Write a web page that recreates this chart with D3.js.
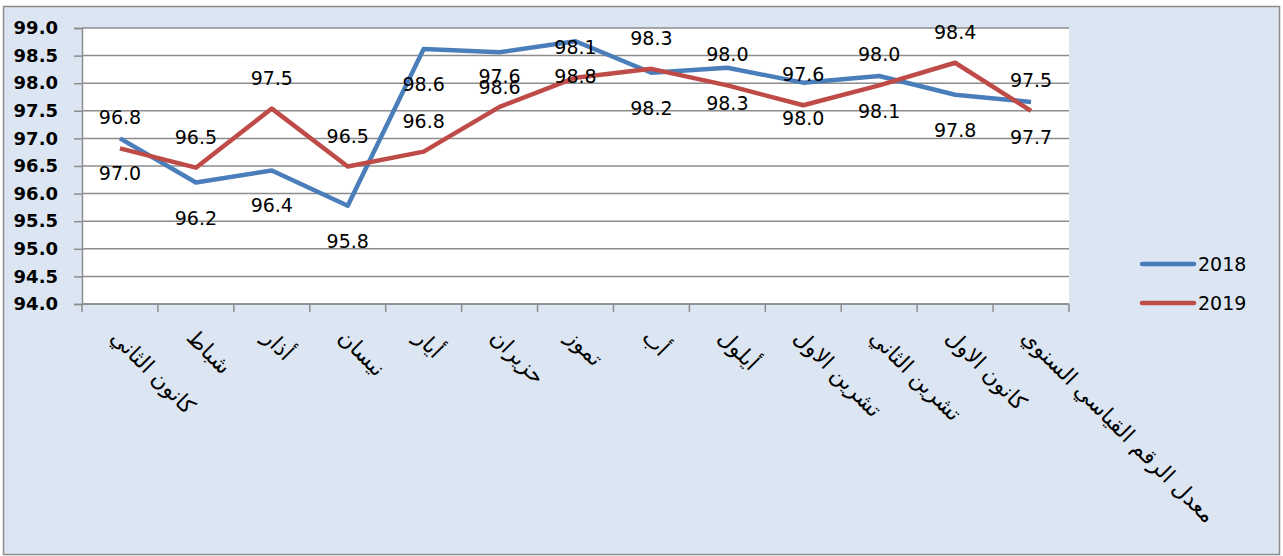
<!DOCTYPE html>
<html>
<head>
<meta charset="utf-8">
<script src="https://cdn.jsdelivr.net/npm/d3@7/dist/d3.min.js"></script>
<style>
  body { margin: 0; background: #fff; }
  svg { display: block; }
</style>
</head>
<body>
<svg id="chart" width="1283" height="556"></svg>
<script>
// months + annual average
var categories = ["كانون الثاني", "شباط", "أذار", "نيسان", "أيار", "حزيران", "تموز",
    "أب", "أيلول", "تشرين الاول", "تشرين الثاني", "كانون الاول", "معدل الرقم القياسي السنوي"];
var values2018 = [97.0, 96.2, 96.42, 95.78, 98.62, 98.56, 98.76, 98.19, 98.28, 98.01, 98.13, 97.79, 97.66];
var values2019 = [96.82, 96.47, 97.54, 96.49, 96.76, 97.57, 98.1, 98.26, 97.96, 97.6, 97.96, 98.37, 97.5];
var yTicks = [94.0, 94.5, 95.0, 95.5, 96.0, 96.5, 97.0, 97.5, 98.0, 98.5, 99.0];

var series = [
    {name: "2018", values: values2018, color: "#4a7ebb", labelDy: 35},
    {name: "2019", values: values2019, color: "#be4b48", labelDy: -31}
];

var svg = d3.select("#chart");
var plotLeft = 82, plotRight = 1069, plotTop = 28, plotBottom = 304;

// outer chart area
svg.append("rect")
    .attr("x", 3.5).attr("y", 6.5).attr("width", 1276).attr("height", 548)
    .attr("fill", "#dce6f2").attr("stroke", "#8c8c8c").attr("stroke-width", 1.5);

svg.append("rect")
    .attr("x", plotLeft).attr("y", plotTop).attr("width", plotRight - plotLeft).attr("height", plotBottom - plotTop)
    .attr("fill", "#fff");

var x = d3.scaleBand().domain(categories).range([plotLeft, plotRight]);
var y = d3.scaleLinear().domain([94, 99]).range([plotBottom, plotTop]);

// gridlines
svg.append("g").selectAll("line")
    .data(yTicks)
    .enter()
    .append("line")
        .attr("x1", plotLeft).attr("x2", plotRight)
        .attr("y1", function (d) { return y(d); })
        .attr("y2", function (d) { return y(d); })
        .attr("stroke", "#8c8c8c").attr("stroke-width", 1.5);

// y axis
var yAxis = svg.append("g")
    .attr("transform", "translate(" + plotLeft + ",0)")
    .call(d3.axisLeft(y).tickValues(yTicks).tickFormat(d3.format(".1f")).tickSize(8).tickPadding(16));
yAxis.select(".domain").attr("stroke", "#8c8c8c").attr("stroke-width", 1.5);
yAxis.selectAll(".tick line").attr("stroke", "#8c8c8c").attr("stroke-width", 1.5);
yAxis.selectAll("text")
    .attr("fill", "#000")
    .style("font-family", "DejaVu Sans")
    .style("font-size", "18px")
    .style("font-weight", "bold");

// x axis: ticks between categories
var boundaries = categories.map(function (d) { return x(d); }).concat([plotRight]);
svg.append("line")
    .attr("x1", plotLeft).attr("x2", plotRight).attr("y1", plotBottom).attr("y2", plotBottom)
    .attr("stroke", "#8c8c8c").attr("stroke-width", 1.5);
svg.append("g").selectAll("line")
    .data(boundaries)
    .enter()
    .append("line")
        .attr("x1", function (d) { return d; })
        .attr("x2", function (d) { return d; })
        .attr("y1", plotBottom).attr("y2", plotBottom + 8)
        .attr("stroke", "#8c8c8c").attr("stroke-width", 1.5);

svg.append("g").selectAll("text")
    .data(categories)
    .enter()
    .append("text")
        .attr("transform", function (d) {
            return "translate(" + (x(d) + x.bandwidth() / 2 + 1) + ",327) rotate(45)";
        })
        .attr("text-anchor", "start")
        .attr("dy", "0.75em")
        .style("font-family", "DejaVu Sans")
        .style("font-size", "22px")
        .attr("fill", "#000")
        .text(function (d) { return d; });

// lines
var line = d3.line()
    .x(function (d, i) { return x(categories[i]) + x.bandwidth() / 2; })
    .y(function (d) { return y(d); });

series.forEach(function (s) {
    svg.append("path")
        .datum(s.values)
        .attr("d", line)
        .attr("fill", "none")
        .attr("stroke", s.color)
        .attr("stroke-width", 4.5)
        .attr("stroke-linejoin", "round");
});

// data labels
series.forEach(function (s) {
    svg.append("g").selectAll("text")
        .data(s.values)
        .enter()
        .append("text")
            .attr("x", function (d, i) { return x(categories[i]) + x.bandwidth() / 2; })
            .attr("y", function (d) { return y(d) + s.labelDy; })
            .attr("text-anchor", "middle")
            .attr("dominant-baseline", "central")
            .style("font-family", "DejaVu Sans")
            .style("font-size", "19px")
            .attr("fill", "#000")
            .text(function (d) { return d.toFixed(1); });
});

// legend
var legend = svg.append("g").selectAll("g")
    .data(series)
    .enter()
    .append("g")
        .attr("transform", function (d, i) { return "translate(1142," + (264 + i * 39) + ")"; });
legend.append("line")
    .attr("x1", 0).attr("x2", 52)
    .attr("stroke", function (d) { return d.color; })
    .attr("stroke-width", 4.5)
    .attr("stroke-linecap", "round");
legend.append("text")
    .attr("x", 56)
    .attr("dominant-baseline", "central")
    .style("font-family", "DejaVu Sans")
    .style("font-size", "19px")
    .attr("fill", "#000")
    .text(function (d) { return d.name; });
</script>
</body>
</html>
